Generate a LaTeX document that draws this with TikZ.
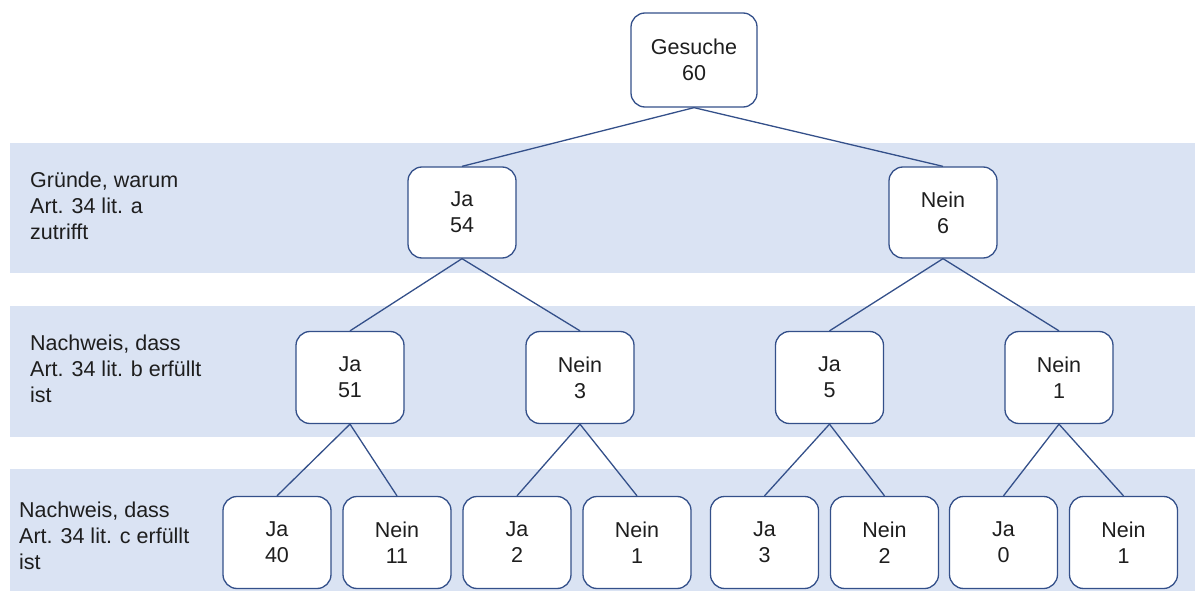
\documentclass[tikz,border=0pt]{standalone}
\usepackage{fontspec}
\setmainfont{Liberation Sans}
\definecolor{bandfill}{HTML}{DAE3F3}
\definecolor{edgecol}{HTML}{34508A}
\definecolor{txtcol}{HTML}{1E1E1E}
\tikzset{
  box/.style={draw=edgecol, line width=1.3pt, fill=white, rounded corners=14pt,
    minimum width=108pt, minimum height=92pt, inner sep=0pt, align=center,
    text=txtcol, font=\fontsize{21.5}{26}\selectfont},
  bigbox/.style={box, minimum width=126pt, minimum height=94pt},
  band/.style={fill=bandfill, draw=none},
  rowlabel/.style={anchor=west, align=left, inner sep=0pt, text=txtcol,
    font=\fontsize{21.5}{26}\selectfont},
  link/.style={draw=edgecol, line width=1.3pt}
}
\begin{document}
\begin{tikzpicture}[x=1pt,y=-1pt]
\useasboundingbox (0,0) rectangle (1195,591);
% bands
\fill[band] (9.5,143) rectangle (1195,273);
\fill[band] (9.5,306) rectangle (1195,437);
\fill[band] (9.5,469) rectangle (1195,591);
% row labels
\node[rowlabel] (la) at (30,206) {Gründe, warum\\Art. 34 lit. a\\zutrifft};
\node[rowlabel] (lb) at (30,369) {Nachweis, dass\\Art. 34 lit. b erfüllt\\ist};
\node[rowlabel] (lc) at (19,536) {Nachweis, dass\\Art. 34 lit. c erfüllt\\ist};
% nodes
\node[bigbox] (g) at (694,60) {Gesuche\\60};
\node[box, minimum height=91pt] (a1) at (462,212.5) {Ja\\54};
\node[box, minimum height=91pt] (a2) at (943,212.5) {Nein\\6};
\node[box] (b1) at (350,377.5) {Ja\\51};
\node[box] (b2) at (580,377.5) {Nein\\3};
\node[box] (b3) at (829.5,377.5) {Ja\\5};
\node[box] (b4) at (1059,377.5) {Nein\\1};
\node[box] (c1) at (277,542.5) {Ja\\40};
\node[box] (c2) at (397,542.5) {Nein\\11};
\node[box] (c3) at (517,542.5) {Ja\\2};
\node[box] (c4) at (637,542.5) {Nein\\1};
\node[box] (c5) at (764.5,542.5) {Ja\\3};
\node[box] (c6) at (884.5,542.5) {Nein\\2};
\node[box] (c7) at (1003.5,542.5) {Ja\\0};
\node[box] (c8) at (1123.5,542.5) {Nein\\1};
% connectors
\draw[link] (g.south) -- (a1.north);
\draw[link] (g.south) -- (a2.north);
\draw[link] (a1.south) -- (b1.north);
\draw[link] (a1.south) -- (b2.north);
\draw[link] (a2.south) -- (b3.north);
\draw[link] (a2.south) -- (b4.north);
\draw[link] (b1.south) -- (c1.north);
\draw[link] (b1.south) -- (c2.north);
\draw[link] (b2.south) -- (c3.north);
\draw[link] (b2.south) -- (c4.north);
\draw[link] (b3.south) -- (c5.north);
\draw[link] (b3.south) -- (c6.north);
\draw[link] (b4.south) -- (c7.north);
\draw[link] (b4.south) -- (c8.north);
\end{tikzpicture}
\end{document}
